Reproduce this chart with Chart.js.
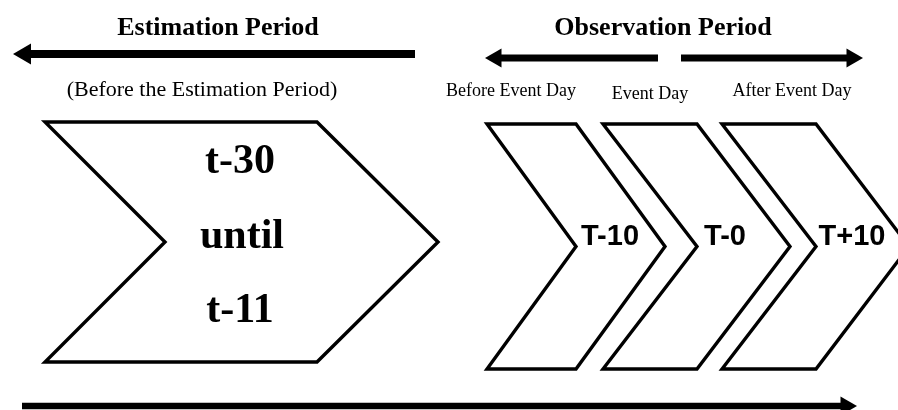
<!DOCTYPE html>
<html>
<head>
<meta charset="utf-8">
<script src="https://cdn.jsdelivr.net/npm/chart.js@4/dist/chart.umd.min.js"></script>
<style>
  html, body { margin: 0; padding: 0; background: #ffffff; }
  #wrap { width: 898px; height: 410px; }
</style>
</head>
<body>
<div id="wrap"><canvas id="c" width="898" height="410"></canvas></div>
<script>
// ---- Data: shape outlines (vertices in diagram units) ----
const estimationChevron = [[45,122],[317,122],[438,242],[317,362],[45,362],[165,242],[45,122],[317,122]];
const beforeChevron = [[487,124],[576,124],[665,246.5],[576,369],[487,369],[576,246.5],[487,124],[576,124]];
const eventChevron  = [[603,124],[697,124],[790,246.5],[697,369],[603,369],[697,246.5],[603,124],[697,124]];
const afterChevron  = [[722,124],[816,124],[909,246.5],[816,369],[722,369],[816,246.5],[722,124],[816,124]];

// arrows: tail point, tip point
const estimationArrow = [[415,54],[13,54]];
const obsLeftArrow    = [[658,58],[485,58]];
const obsRightArrow   = [[681,58],[863,58]];
const timelineArrow   = [[22,406],[857,406]];

// ---- Text ----
const headingLabels = ["Estimation Period", "Observation Period"];
const subLabels = ["(Before the Estimation Period)", "Before Event Day", "Event Day", "After Event Day"];
const estimationWindow = ["t-30", "until", "t-11"];
const eventWindows = ["T-10", "T-0", "T+10"];

// ---- Layout / style (not data) ----
const SERIF = '"Liberation Serif", "Times New Roman", serif';
const SANS = '"Liberation Sans", Arial, sans-serif';
const textItems = [
  { text: headingLabels[0], x: 218, y: 35, font: 'bold 26px ' + SERIF },
  { text: headingLabels[1], x: 663, y: 35, font: 'bold 26px ' + SERIF },
  { text: subLabels[0], x: 202, y: 96, font: '22px ' + SERIF },
  { text: subLabels[1], x: 511, y: 96, font: '18px ' + SERIF },
  { text: subLabels[2], x: 650, y: 99, font: '18px ' + SERIF },
  { text: subLabels[3], x: 792, y: 96, font: '18px ' + SERIF },
  { text: estimationWindow[0], x: 240, y: 173, font: 'bold 42px ' + SERIF },
  { text: estimationWindow[1], x: 242, y: 248, font: 'bold 42px ' + SERIF },
  { text: estimationWindow[2], x: 240, y: 322, font: 'bold 42px ' + SERIF },
  { text: eventWindows[0], x: 610, y: 245, font: 'bold 29px ' + SANS },
  { text: eventWindows[1], x: 725, y: 245, font: 'bold 29px ' + SANS },
  { text: eventWindows[2], x: 852, y: 245, font: 'bold 29px ' + SANS },
];

const toPts = arr => arr.map(p => ({ x: p[0], y: p[1] }));

function outline(points, width) {
  return {
    type: 'line', data: toPts(points), showLine: true, fill: false,
    borderColor: '#000', borderWidth: width, pointRadius: 0,
    borderJoinStyle: 'miter', borderCapStyle: 'butt', tension: 0
  };
}

function arrow(a, width, r) {
  const tail = a[0], tip = a[1];
  const dir = Math.sign(tip[0] - tail[0]);
  const center = [tip[0] - dir * r, tip[1]];
  return [
    { type: 'line', data: toPts([tail, center]), showLine: true, fill: false,
      borderColor: '#000', borderWidth: width, pointRadius: 0, borderCapStyle: 'butt' },
    { type: 'scatter', data: toPts([center]), pointStyle: 'triangle',
      pointRadius: r, pointHoverRadius: r, rotation: dir > 0 ? 90 : -90,
      backgroundColor: '#000', borderColor: '#000', borderWidth: 0 }
  ];
}

const textPlugin = {
  id: 'diagramText',
  afterDatasetsDraw(chart) {
    const ctx = chart.ctx, xs = chart.scales.x, ys = chart.scales.y;
    ctx.save();
    ctx.fillStyle = '#000';
    ctx.textAlign = 'center';
    ctx.textBaseline = 'alphabetic';
    textItems.forEach(t => {
      ctx.font = t.font;
      ctx.fillText(t.text, xs.getPixelForValue(t.x), ys.getPixelForValue(t.y));
    });
    ctx.restore();
  }
};

const bgPlugin = {
  id: 'bg',
  beforeDraw(chart) {
    const ctx = chart.ctx;
    ctx.save(); ctx.fillStyle = '#fff';
    ctx.fillRect(0, 0, chart.width, chart.height); ctx.restore();
  }
};

new Chart(document.getElementById('c'), {
  type: 'scatter',
  data: {
    datasets: [
      outline(estimationChevron, 3.4),
      outline(beforeChevron, 3.4),
      outline(eventChevron, 3.4),
      outline(afterChevron, 3.4),
      ...arrow(estimationArrow, 8, 12),
      ...arrow(obsLeftArrow, 7, 11),
      ...arrow(obsRightArrow, 7, 11),
      ...arrow(timelineArrow, 6.5, 11),
    ]
  },
  options: {
    responsive: false,
    animation: false,
    devicePixelRatio: 1,
    layout: { padding: 0, autoPadding: false },
    plugins: { legend: { display: false }, tooltip: { enabled: false }, title: { display: false } },
    events: [],
    scales: {
      x: { type: 'linear', min: 0, max: 898, display: false },
      y: { type: 'linear', min: 0, max: 410, reverse: true, display: false }
    }
  },
  plugins: [bgPlugin, textPlugin]
});
</script>
</body>
</html>
